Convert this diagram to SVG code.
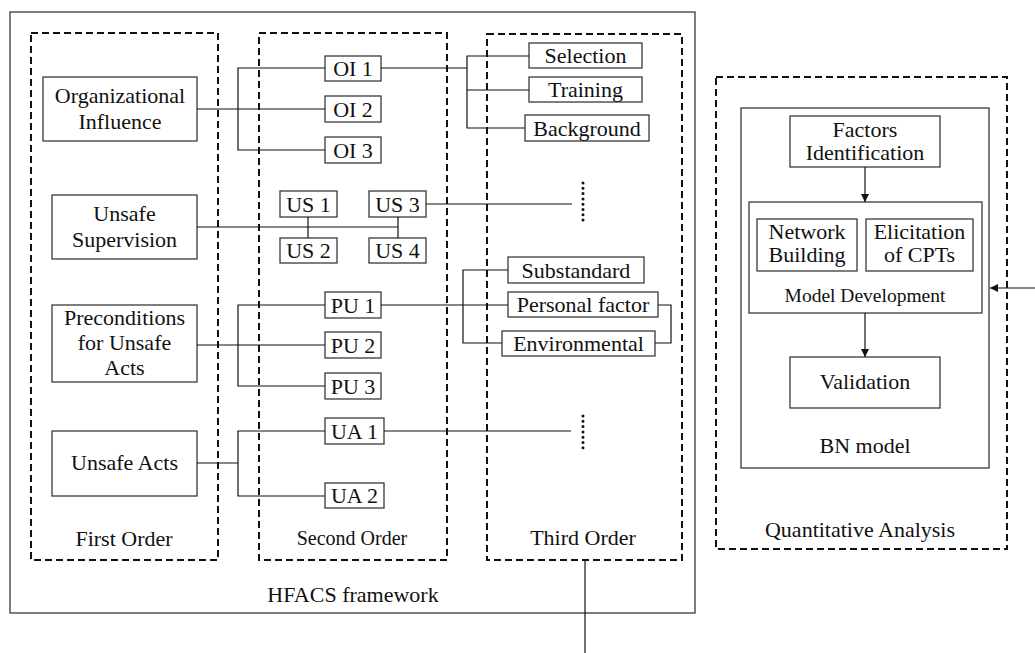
<svg xmlns="http://www.w3.org/2000/svg" width="1035" height="653" viewBox="0 0 1035 653">
<defs>
<style>
.t{font-family:"Liberation Serif","Times New Roman",serif;font-size:22px;fill:#111;text-anchor:middle}
.s{font-size:20px}
.m{font-size:19.5px}
.box{fill:#fff;stroke:#3a3a3a;stroke-width:1.3}
.frame{fill:none;stroke:#3a3a3a;stroke-width:1.3}
.dash{fill:none;stroke:#111;stroke-width:2;stroke-dasharray:7,4}
.ln{fill:none;stroke:#111;stroke-width:1.2}
.dots{fill:none;stroke:#111;stroke-width:3;stroke-linecap:round;stroke-dasharray:0,5.3}
</style>
<marker id="ah" markerWidth="8" markerHeight="8" refX="8" refY="4" orient="auto" markerUnits="userSpaceOnUse">
<path d="M0,0 L8,4 L0,8 Z" fill="#111"/>
</marker>
</defs>
<rect width="1035" height="653" fill="#fff"/>

<g id="hfacs-frame">
<rect class="frame" x="10" y="12" width="685" height="601"/>
<text class="t" x="353" y="602">HFACS framework</text>
</g>
<g id="first-order">
<rect class="dash" x="31" y="33" width="187" height="527"/>
<text class="t" x="124" y="546">First Order</text>
</g>
<g id="second-order">
<rect class="dash" x="259" y="33" width="188" height="527"/>
<text class="t s" x="352" y="545">Second Order</text>
</g>
<g id="third-order">
<rect class="dash" x="487" y="34" width="195" height="526"/>
<text class="t" x="583" y="545">Third Order</text>
</g>

<g id="org-influence"><rect class="box" x="43" y="77" width="154" height="64"/><text class="t" x="120" y="103">Organizational</text><text class="t" x="120" y="129">Influence</text></g>
<g id="unsafe-supervision"><rect class="box" x="52" y="195" width="145" height="64"/><text class="t" x="124.5" y="221">Unsafe</text><text class="t" x="124.5" y="247">Supervision</text></g>
<g id="preconditions"><rect class="box" x="52" y="305" width="145" height="77"/><text class="t" x="124.5" y="325">Preconditions</text><text class="t" x="124.5" y="350">for Unsafe</text><text class="t" x="124.5" y="375">Acts</text></g>
<g id="unsafe-acts"><rect class="box" x="52" y="431" width="145" height="65"/><text class="t" x="124.5" y="470">Unsafe Acts</text></g>

<g id="oi1"><rect class="box" x="325" y="56" width="56" height="25"/><text class="t" x="353" y="76">OI 1</text></g>
<g id="oi2"><rect class="box" x="325" y="96" width="56" height="26"/><text class="t" x="353" y="117">OI 2</text></g>
<g id="oi3"><rect class="box" x="325" y="137" width="56" height="26"/><text class="t" x="353" y="158">OI 3</text></g>
<g id="us1"><rect class="box" x="280" y="191" width="57" height="26"/><text class="t" x="308.5" y="212">US 1</text></g>
<g id="us2"><rect class="box" x="280" y="238" width="57" height="25"/><text class="t" x="308.5" y="258">US 2</text></g>
<g id="us3"><rect class="box" x="369" y="191" width="57" height="26"/><text class="t" x="397.5" y="212">US 3</text></g>
<g id="us4"><rect class="box" x="369" y="238" width="57" height="25"/><text class="t" x="397.5" y="258">US 4</text></g>
<g id="pu1"><rect class="box" x="325" y="292" width="56" height="26"/><text class="t" x="353" y="313">PU 1</text></g>
<g id="pu2"><rect class="box" x="325" y="332" width="56" height="26"/><text class="t" x="353" y="353">PU 2</text></g>
<g id="pu3"><rect class="box" x="325" y="373" width="56" height="26"/><text class="t" x="353" y="394">PU 3</text></g>
<g id="ua1"><rect class="box" x="325" y="418" width="59" height="26"/><text class="t" x="354.5" y="439">UA 1</text></g>
<g id="ua2"><rect class="box" x="325" y="483" width="59" height="25"/><text class="t" x="354.5" y="503">UA 2</text></g>

<g id="selection"><rect class="box" x="529" y="43" width="113" height="25"/><text class="t" x="585.5" y="63">Selection</text></g>
<g id="training"><rect class="box" x="529" y="77" width="113" height="25"/><text class="t" x="585.5" y="97">Training</text></g>
<g id="background"><rect class="box" x="525" y="115" width="124" height="26"/><text class="t" x="587" y="136">Background</text></g>
<g id="substandard"><rect class="box" x="508" y="257" width="136" height="26"/><text class="t" x="576" y="278">Substandard</text></g>
<g id="personal-factor"><rect class="box" x="508" y="292" width="150" height="25"/><text class="t" x="583" y="312">Personal factor</text></g>
<g id="environmental"><rect class="box" x="502" y="331" width="153" height="25"/><text class="t" x="578.5" y="351">Environmental</text></g>

<g id="quantitative-analysis">
<rect class="dash" x="716" y="77" width="291" height="472"/>
<text class="t" x="860" y="537">Quantitative Analysis</text>
</g>
<g id="bn-model">
<rect class="box" x="741" y="108" width="248" height="360"/>
<text class="t" x="865" y="453">BN model</text>
</g>
<g id="factors-identification"><rect class="box" x="790" y="116" width="150" height="51"/><text class="t" x="865" y="137">Factors</text><text class="t" x="865" y="160">Identification</text></g>
<g id="model-development"><rect class="box" x="749" y="202" width="233" height="111"/><text class="t m" x="865" y="302">Model Development</text></g>
<g id="network-building"><rect class="box" x="757" y="219" width="100" height="52"/><text class="t" x="807" y="239">Network</text><text class="t" x="807" y="262">Building</text></g>
<g id="elicitation"><rect class="box" x="866" y="219" width="107" height="52"/><text class="t" x="919.5" y="239">Elicitation</text><text class="t" x="919.5" y="262">of CPTs</text></g>
<g id="validation"><rect class="box" x="790" y="357" width="150" height="51"/><text class="t" x="865" y="389">Validation</text></g>

<g id="connectors">
<polyline class="ln" points="197,109 325,109"/>
<polyline class="ln" points="325,68 238,68 238,150 325,150"/>
<polyline class="ln" points="381,68 467,68"/>
<polyline class="ln" points="529,56 467,56 467,128 525,128"/>
<polyline class="ln" points="467,90 529,90"/>
<polyline class="ln" points="197,227 398,227"/>
<polyline class="ln" points="308,217 308,238"/>
<polyline class="ln" points="398,217 398,238"/>
<polyline class="ln" points="426,204 572,204"/>
<polyline class="dots" points="583,183 583,221"/>
<polyline class="ln" points="325,305 238,305 238,386 325,386"/>
<polyline class="ln" points="197,345 325,345"/>
<polyline class="ln" points="381,305 508,305"/>
<polyline class="ln" points="508,270 463,270 463,343 502,343"/>
<polyline class="ln" points="658,305 671,305 671,343 655,343"/>
<polyline class="ln" points="197,463 238,463"/>
<polyline class="ln" points="325,431 238,431 238,496 325,496"/>
<polyline class="ln" points="384,431 571,431"/>
<polyline class="dots" points="583,416 583,453"/>
<polyline class="ln" points="585,560 585,653"/>
<polyline class="ln" points="1035,288 990,288" marker-end="url(#ah)"/>
<polyline class="ln" points="865,167 865,202" marker-end="url(#ah)"/>
<polyline class="ln" points="865,313 865,357" marker-end="url(#ah)"/>
</g>
</svg>
